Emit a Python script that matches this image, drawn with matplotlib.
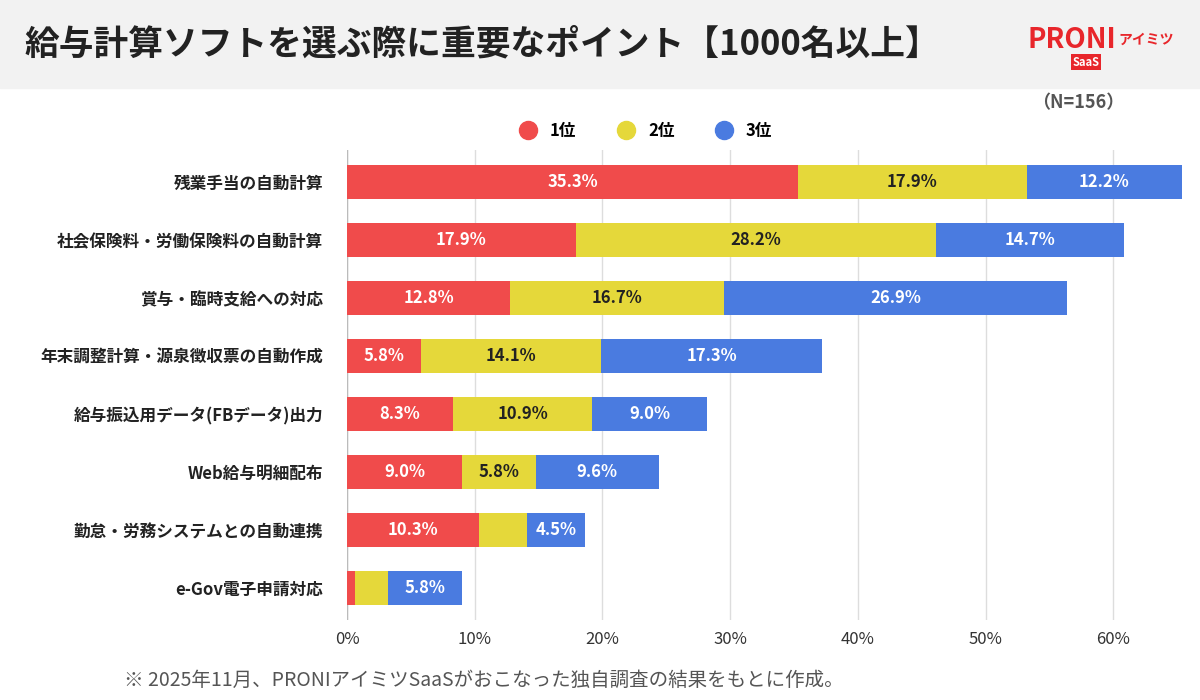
import matplotlib.pyplot as plt
from matplotlib.patches import Rectangle

plt.rcParams['font.family'] = ['Noto Sans CJK JP', 'DejaVu Sans']

categories = ['残業手当の自動計算', '社会保険料・労働保険料の自動計算', '賞与・臨時支給への対応',
              '年末調整計算・源泉徴収票の自動作成', '給与振込用データ(FBデータ)出力',
              'Web給与明細配布', '勤怠・労務システムとの自動連携', 'e-Gov電子申請対応']
rank1 = [35.3, 17.9, 12.8, 5.8, 8.3, 9.0, 10.3, 0.6]
rank2 = [17.9, 28.2, 16.7, 14.1, 10.9, 5.8, 3.8, 2.6]
rank3 = [12.2, 14.7, 26.9, 17.3, 9.0, 9.6, 4.5, 5.8]
series = [('1位', rank1, '#F04B4B', 'white'),
          ('2位', rank2, '#E5D83A', '#222222'),
          ('3位', rank3, '#4A7BE0', 'white')]

fig = plt.figure(figsize=(12, 7), dpi=100)
fig.patches.append(Rectangle((0, 1 - 88 / 700), 1, 88 / 700, transform=fig.transFigure,
                             color='#F2F2F2', zorder=0))
fig.text(0.02, 1 - 44 / 700, '給与計算ソフトを選ぶ際に重要なポイント【1000名以上】',
         fontsize=25, fontweight='bold', va='center', color='#222222')
fig.text(0.93, 1 - 40 / 700, 'PRONI', fontsize=20, fontweight='bold', style='italic',
         color='#E8262B', ha='right', va='center')
fig.text(0.932, 1 - 40 / 700, 'アイミツ', fontsize=10, fontweight='bold',
         color='#E8262B', ha='left', va='center')
fig.text(0.905, 1 - 62 / 700, 'SaaS', fontsize=8, fontweight='bold', color='white',
         ha='center', va='center', bbox=dict(boxstyle='square,pad=0.15', fc='#E8262B', ec='none'))
fig.text(0.937, 1 - 103 / 700, '（N=156）', fontsize=13, fontweight='bold', color='#555555',
         ha='right', va='center')
fig.text(0.103, 1 - 680 / 700, '※ 2025年11月、PRONIアイミツSaaSがおこなった独自調査の結果をもとに作成。',
         fontsize=14, color='#555555', va='center')

ax = fig.add_axes([347 / 1200, 1 - 620 / 700, 843 / 1200, 470 / 700])
y = list(range(len(categories)))
left = [0] * len(categories)
for name, vals, color, tc in series:
    ax.barh(y, vals, left=left, color=color, height=0.6, label=name, zorder=3)
    for i, v in enumerate(vals):
        if v >= 4:
            ax.text(left[i] + v / 2, i, f'{v:.1f}%', ha='center', va='center',
                    color=tc, fontsize=12, fontweight='bold', zorder=4)
    left = [a + b for a, b in zip(left, vals)]

ax.set_ylim(len(categories) - 0.45, -0.55)
ax.set_xlim(0, 66)
ax.set_xticks(range(0, 70, 10))
ax.set_xticklabels([f'{t}%' for t in range(0, 70, 10)], fontsize=12, color='#333333')
ax.set_yticks(y)
ax.set_yticklabels(categories, fontsize=12, fontweight='bold', color='#222222')
ax.grid(axis='x', color='#DDDDDD', linewidth=1, zorder=0)
ax.tick_params(axis='y', length=0, pad=17)
ax.tick_params(axis='x', length=0, pad=8)
for s in ax.spines.values():
    s.set_visible(False)
ax.axvline(0, color='#BBBBBB', linewidth=1, zorder=2)

handles, labels = ax.get_legend_handles_labels()
hs = [plt.Line2D([], [], marker='o', linestyle='', markersize=13, color=h.patches[0].get_facecolor()) for h in handles]
fig.legend(hs, labels, loc='center', bbox_to_anchor=(0.535, 1 - 131 / 700), ncol=3, frameon=False,
           prop={'size': 12, 'weight': 'bold'}, handletextpad=0.3, columnspacing=2.0)

fig.savefig('out.png', dpi=100, facecolor='white')
